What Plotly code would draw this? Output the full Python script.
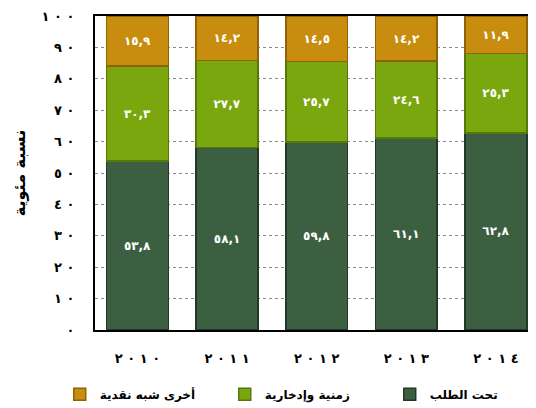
import plotly.graph_objects as go

years = ["2010", "2011", "2012", "2013", "2014"]
demand = [53.8, 58.1, 59.8, 61.1, 62.8]          # تحت الطلب
time_savings = [30.3, 27.7, 25.7, 24.6, 25.3]    # زمنية وإدخارية
other_quasi = [15.9, 14.2, 14.5, 14.2, 11.9]     # أخرى شبه نقدية
series_names = ["تحت الطلب", "زمنية وإدخارية", "أخرى شبه نقدية"]
y_ticks = [0, 10, 20, 30, 40, 50, 60, 70, 80, 90, 100]

AR = str.maketrans("0123456789.", "٠١٢٣٤٥٦٧٨٩,")
LRM = "\u200e"


def ar(v):
    return LRM + str(v).translate(AR) + LRM


def ar_spaced(v):
    return LRM + (LRM + " ").join(str(v).translate(AR)) + LRM


colors = ["#3C5F42", "#7AA60E", "#C88C0E"]
edges = ["#24382A", "#55780A", "#8E6208"]
series = [demand, time_savings, other_quasi]

fig = go.Figure()
for name, vals, c, e in zip(series_names, series, colors, edges):
    fig.add_trace(go.Bar(
        x=list(range(len(years))), y=vals, name=name,
        marker=dict(color=c, line=dict(color=e, width=1.5)),
        width=0.69,
        text=[ar(v) for v in vals], textposition="inside",
        insidetextanchor="middle",
        textfont=dict(color="white", size=12, family="DejaVu Sans", weight="bold"),
        textangle=0,
        hoverinfo="skip",
    ))

# page body has an 8px default margin, so the figure is sized/offset to compensate
fig.update_layout(
    barmode="stack",
    width=528, height=400,
    margin=dict(l=87, r=0, t=8, b=78, autoexpand=False),
    paper_bgcolor="white", plot_bgcolor="white",
    font=dict(family="DejaVu Sans", color="black"),
    legend=dict(
        orientation="h", traceorder="reversed",
        x=-0.080, xanchor="left", y=-0.205, yanchor="middle",
        entrywidth=120, entrywidthmode="pixels",
        font=dict(size=12, family="DejaVu Sans", color="black", weight="bold"),
        itemclick=False,
    ),
    showlegend=True,
)

fig.update_xaxes(
    range=[-0.474, 4.447],
    tickvals=list(range(len(years))),
    ticktext=[ar_spaced(y) for y in years],
    tickfont=dict(size=13, family="DejaVu Sans", weight="bold"),
    showgrid=False, zeroline=False,
    showline=True, linecolor="black", linewidth=2, mirror=True,
    ticks="", ticklabelstandoff=15,
)
fig.update_yaxes(
    range=[0, 100],
    tickvals=y_ticks,
    ticktext=[ar_spaced(t) for t in y_ticks],
    tickfont=dict(size=13, family="DejaVu Sans", weight="bold"),
    showgrid=True, gridcolor="#8a8a8a", griddash="dot", gridwidth=1,
    zeroline=False,
    showline=True, linecolor="black", linewidth=2, mirror=True,
    ticks="", ticklabelstandoff=16,
    title=dict(text="نسبة مئوية", font=dict(size=16, family="DejaVu Sans", weight="bold"),
               standoff=12),
)

fig.write_html("out.html")
